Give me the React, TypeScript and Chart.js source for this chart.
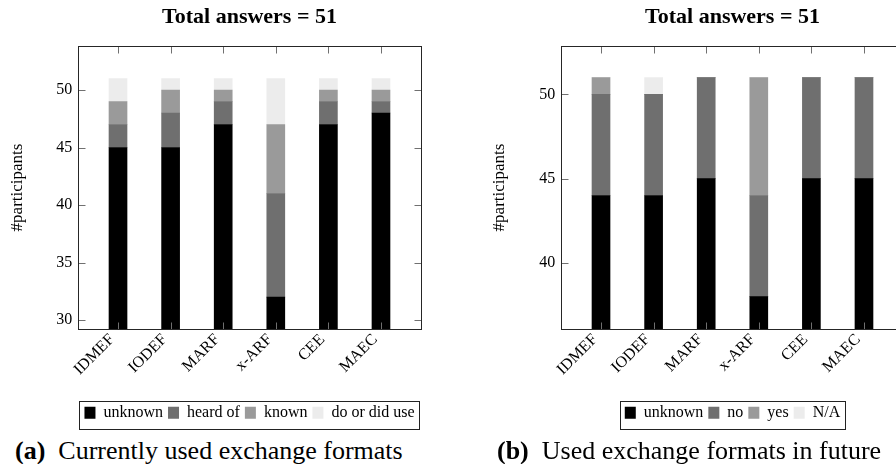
import React, { useEffect, useRef } from 'react';
import { Chart, registerables } from 'chart.js';

Chart.register(...registerables);
const FONT_FAMILY = '"Liberation Serif", "Times New Roman", serif';
Chart.defaults.font.family = FONT_FAMILY;
Chart.defaults.color = '#000';

// ---------- data ----------
const CATEGORIES = ['IDMEF', 'IODEF', 'MARF', 'x-ARF', 'CEE', 'MAEC'];

const A_LABELS = ['unknown', 'heard of', 'known', 'do or did use'];
const A_UNKNOWN = [45, 45, 47, 32, 47, 48];
const A_HEARD_OF = [2, 3, 2, 9, 2, 1];
const A_KNOWN = [2, 2, 1, 6, 1, 1];
const A_USE = [2, 1, 1, 4, 1, 1];

const B_LABELS = ['unknown', 'no', 'yes', 'N/A'];
const B_UNKNOWN = [44, 44, 45, 38, 45, 45];
const B_NO = [6, 6, 6, 6, 6, 6];
const B_YES = [1, 0, 0, 7, 0, 0];
const B_NA = [0, 1, 0, 0, 0, 0];

const A_Y_TICKS = [30, 35, 40, 45, 50];
const B_Y_TICKS = [40, 45, 50];
const A_Y_RANGE = [29.2, 53.85];
const B_Y_RANGE = [36.06, 52.89];
const X_RANGE = [-0.755, 5.755];

const TITLE = 'Total answers = 51';
const Y_TITLE = '#participants';
const CAPTION_A = ['(a)', 'Currently used exchange formats'];
const CAPTION_B = ['(b)', 'Used exchange formats in future'];

const COLORS = ['#000000', '#6f6f6f', '#9a9a9a', '#ececec'];

// ---------- plugins ----------
const framePlugin = {
  id: 'pgfFrame',
  afterDatasetsDraw(chart: any) {
    const { ctx, chartArea: a, scales } = chart;
    const xs = scales.x;
    const ys = scales.y;
    const L = Math.round(a.left) + 0.5;
    const R = Math.round(a.right) + 0.5;
    const T = Math.round(a.top) + 0.5;
    const B = Math.round(a.bottom) + 0.5;
    const len = 7;
    ctx.save();
    ctx.lineWidth = 1;
    ctx.beginPath();
    ys.ticks.forEach((t: any) => {
      const py = Math.round(ys.getPixelForValue(t.value)) + 0.5;
      ctx.moveTo(L, py); ctx.lineTo(L + len, py);
      ctx.moveTo(R, py); ctx.lineTo(R - len, py);
    });
    xs.ticks.forEach((t: any) => {
      const px = Math.round(xs.getPixelForValue(t.value)) + 0.5;
      ctx.moveTo(px, T); ctx.lineTo(px, T + len);
      ctx.moveTo(px, B); ctx.lineTo(px, B - len);
    });
    ctx.strokeStyle = '#707070';
    ctx.stroke();
    ctx.strokeStyle = '#262626';
    ctx.strokeRect(L, T, R - L, B - T);
    ctx.restore();
  },
};

const legendBoxPlugin = {
  id: 'legendBox',
  afterDraw(chart: any) {
    const lg = chart.legend;
    if (!lg || !lg.legendHitBoxes || !lg.legendHitBoxes.length) return;
    const hb = lg.legendHitBoxes;
    const left = Math.min(...hb.map((h: any) => h.left)) - 5;
    const right = Math.max(...hb.map((h: any) => h.left + h.width)) + 5;
    const top = hb[0].top - 4;
    const { ctx } = chart;
    ctx.save();
    ctx.lineWidth = 1;
    ctx.strokeStyle = '#222';
    ctx.strokeRect(Math.round(left) + 0.5, Math.round(top) + 0.5, Math.round(right - left), 28);
    ctx.restore();
  },
};

// ---------- chart factory ----------
type Spec = {
  labels: string[];
  series: number[][];
  yTicks: number[];
  yRange: number[];
  axisWidth: number;
  yTitlePad: number;
};

function makeConfig(s: Spec): any {
  return {
    type: 'bar',
    data: {
      datasets: s.series.map((vals, k) => ({
        label: s.labels[k],
        data: vals.map((v, i) => ({ x: i, y: v })),
        backgroundColor: COLORS[k],
        borderWidth: 0,
        barThickness: 18,
        xAxisID: 'x',
        yAxisID: 'y',
      })),
    },
    options: {
      responsive: false,
      animation: false,
      events: [],
      layout: { padding: { top: 0, left: 0, right: 0, bottom: 5.3 } },
      plugins: {
        title: {
          display: true,
          text: TITLE,
          color: '#000',
          font: { family: FONT_FAMILY, size: 22, weight: 'bold', lineHeight: 1.2 },
          padding: { top: 4.5, bottom: 14.8 },
        },
        legend: {
          display: true,
          position: 'bottom',
          labels: {
            boxWidth: 11,
            boxHeight: 12,
            padding: 5,
            color: '#000',
            font: { family: FONT_FAMILY, size: 16 },
          },
        },
        tooltip: { enabled: false },
      },
      scales: {
        x: {
          type: 'linear',
          position: 'bottom',
          stacked: true,
          offset: false,
          min: X_RANGE[0],
          max: X_RANGE[1],
          grid: { display: false, drawTicks: false, offset: false },
          border: { display: false },
          afterBuildTicks: (sc: any) => {
            sc.ticks = CATEGORIES.map((_, i) => ({ value: i }));
          },
          afterFit: (sc: any) => {
            sc.height = 70.4;
          },
          ticks: {
            autoSkip: false,
            minRotation: 45,
            maxRotation: 45,
            padding: 1,
            labelOffset: -6,
            font: { family: FONT_FAMILY, size: 16 },
            callback: (v: any) => CATEGORIES[v] ?? '',
          },
        },
        y: {
          type: 'linear',
          position: 'left',
          stacked: true,
          min: s.yRange[0],
          max: s.yRange[1],
          grid: { display: false, drawTicks: false },
          border: { display: false },
          afterBuildTicks: (sc: any) => {
            sc.ticks = s.yTicks.map((v) => ({ value: v }));
          },
          afterFit: (sc: any) => {
            sc.width = s.axisWidth;
          },
          ticks: { padding: 6, font: { family: FONT_FAMILY, size: 16 } },
          title: {
            display: true,
            text: Y_TITLE,
            color: '#000',
            font: { family: FONT_FAMILY, size: 17 },
            padding: { top: s.yTitlePad, bottom: 0 },
          },
        },
        yr: {
          type: 'linear',
          position: 'right',
          display: true,
          grid: { display: false, drawTicks: false },
          border: { display: false },
          ticks: { display: false },
          afterFit: (sc: any) => {
            sc.width = s.axisWidth;
          },
        },
      },
    },
    plugins: [framePlugin, legendBoxPlugin],
  };
}

function ChartCanvas({ spec, left, width }: { spec: Spec; left: number; width: number }) {
  const ref = useRef<HTMLCanvasElement | null>(null);
  useEffect(() => {
    if (!ref.current) return;
    const chart = new Chart(ref.current, makeConfig(spec));
    return () => chart.destroy();
  }, []);
  return (
    <canvas
      ref={ref}
      width={width}
      height={436}
      style={{ position: 'absolute', left, top: 0, width, height: 436 }}
    />
  );
}

const captionStyle: React.CSSProperties = {
  position: 'absolute',
  top: 437.7,
  fontFamily: FONT_FAMILY,
  fontSize: 26,
  lineHeight: '26px',
  whiteSpace: 'nowrap',
  color: '#000',
};

export default function App() {
  const specA: Spec = {
    labels: A_LABELS,
    series: [A_UNKNOWN, A_HEARD_OF, A_KNOWN, A_USE],
    yTicks: A_Y_TICKS,
    yRange: A_Y_RANGE,
    axisWidth: 78.3,
    yTitlePad: 7.8,
  };
  const specB: Spec = {
    labels: B_LABELS,
    series: [B_UNKNOWN, B_NO, B_YES, B_NA],
    yTicks: B_Y_TICKS,
    yRange: B_Y_RANGE,
    axisWidth: 113.3,
    yTitlePad: 41.5,
  };
  return (
    <div
      style={{
        position: 'absolute',
        left: 0,
        top: 0,
        width: 896,
        height: 464,
        overflow: 'hidden',
        background: '#fff',
      }}
    >
      <ChartCanvas spec={specA} left={0} width={499} />
      <ChartCanvas spec={specB} left={448} width={569} />
      <div style={{ ...captionStyle, left: 15 }}>
        <b>{CAPTION_A[0]}</b>
        <span style={{ marginLeft: 13 }}>{CAPTION_A[1]}</span>
      </div>
      <div style={{ ...captionStyle, left: 497 }}>
        <b>{CAPTION_B[0]}</b>
        <span style={{ marginLeft: 13 }}>{CAPTION_B[1]}</span>
      </div>
    </div>
  );
}
